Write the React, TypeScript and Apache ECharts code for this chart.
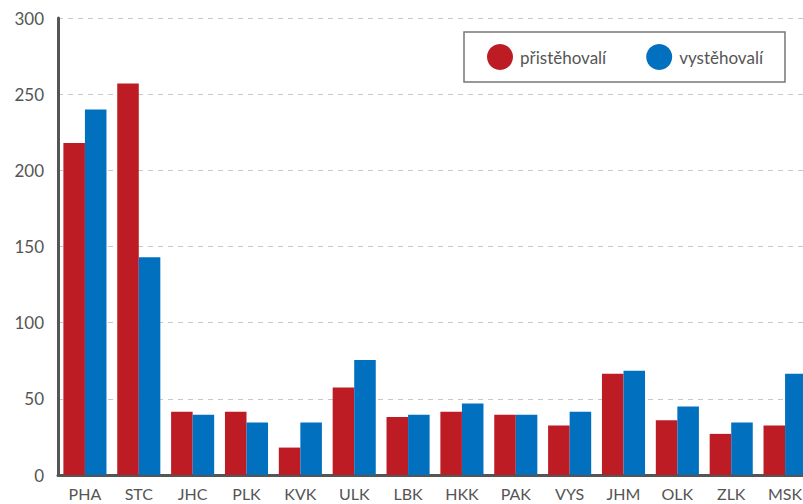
import React, { useEffect, useRef } from "react";
import * as echarts from "echarts";

const categories = ["PHA", "STC", "JHC", "PLK", "KVK", "ULK", "LBK", "HKK", "PAK", "VYS", "JHM", "OLK", "ZLK", "MSK"];
const pristhovali = [218, 257, 41.5, 41.5, 18, 57.5, 38, 41.5, 39.5, 32.5, 66.5, 36, 27, 32.5];
const vysthovali = [240, 143, 39.5, 34.5, 34.5, 75.5, 39.5, 47, 39.5, 41.5, 68.5, 45, 34.5, 66.5];
const seriesNames = ["přistěhovalí", "vystěhovalí"];
const yTicks = { min: 0, max: 300, interval: 50 };

const FONT = "Lato, 'Open Sans', sans-serif";

export default function App() {
  const ref = useRef<HTMLDivElement>(null);
  useEffect(() => {
    if (!ref.current) return;
    const chart = echarts.init(ref.current, undefined, { renderer: "svg" });
    chart.setOption({
      animation: false,
      textStyle: { fontFamily: FONT },
      grid: { left: 58, right: 0, top: 18, bottom: 29, containLabel: false },
      legend: {
        left: 464,
        top: 32,
        padding: [12, 22, 12, 23],
        itemGap: 40,
        itemWidth: 26,
        itemHeight: 26,
        icon: "circle",
        borderColor: "#777",
        borderWidth: 1.5,
        borderRadius: 0,
        textStyle: { fontFamily: FONT, fontSize: 17, color: "#555", padding: [0, 0, 0, 2] },
        data: seriesNames,
      },
      xAxis: {
        type: "category",
        data: categories,
        axisLine: { show: true, lineStyle: { color: "#555", width: 3 } },
        axisTick: { show: false },
        axisLabel: { color: "#555", fontSize: 16, lineHeight: 16, margin: 10, fontFamily: FONT, interval: 0 },
      },
      yAxis: {
        type: "value",
        min: yTicks.min,
        max: yTicks.max,
        interval: yTicks.interval,
        axisLine: { show: true, lineStyle: { color: "#555", width: 3 } },
        axisTick: { show: false },
        axisLabel: { color: "#555", fontSize: 17, margin: 14, fontFamily: FONT },
        splitLine: { show: true, lineStyle: { color: "#c8c8c8", type: [5, 5], width: 1 } },
      },
      series: [
        {
          name: seriesNames[0],
          type: "bar",
          data: pristhovali,
          barGap: "0%",
          barCategoryGap: "20%",
          itemStyle: { color: "#BE1C24" },
        },
        {
          name: seriesNames[1],
          type: "bar",
          data: vysthovali,
          barGap: "0%",
          barCategoryGap: "20%",
          itemStyle: { color: "#0070BF" },
        },
      ],
    });
    return () => chart.dispose();
  }, []);
  return (
    <div style={{ position: "fixed", left: 0, top: 0, width: 803, height: 504, overflow: "hidden", background: "#fff" }}>
      <div ref={ref} style={{ width: 812, height: 504 }} />
    </div>
  );
}
